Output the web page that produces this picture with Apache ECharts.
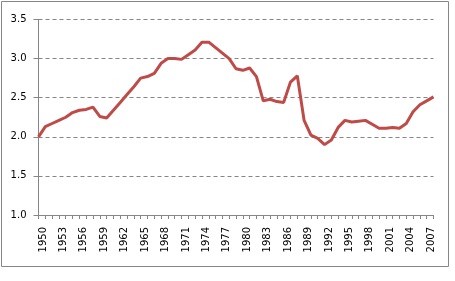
<!DOCTYPE html>
<html>
<head>
<meta charset="utf-8">
<script src="https://cdn.jsdelivr.net/npm/echarts@6/dist/echarts.min.js"></script>
<style>html,body{margin:0;padding:0;background:#fff}#c{width:455px;height:281px}</style>
</head>
<body>
<div id="c"></div>
<script>
const years = [];
for (let y = 1950; y <= 2008; y++) years.push(String(y));
const values = [
  2.00, 2.13, 2.17, 2.21, 2.25, 2.31, 2.34, 2.35, 2.38, 2.26,
  2.24, 2.34, 2.44, 2.54, 2.64, 2.75, 2.77, 2.81, 2.94, 3.00,
  3.00, 2.99, 3.05, 3.11, 3.21, 3.21, 3.14, 3.07, 3.00, 2.87,
  2.85, 2.88, 2.77, 2.46, 2.48, 2.45, 2.44, 2.70, 2.78, 2.21,
  2.02, 1.98, 1.90, 1.96, 2.12, 2.21, 2.19, 2.20, 2.21, 2.16,
  2.11, 2.11, 2.12, 2.11, 2.17, 2.32, 2.41, 2.46, 2.51
];
const yTicks = [1.0, 1.5, 2.0, 2.5, 3.0, 3.5];

const chart = echarts.init(document.getElementById('c'));
chart.setOption({
  animation: false,
  graphic: [{
    type: 'rect',
    shape: {x: 1.5, y: 1.5, width: 447, height: 265},
    style: {fill: 'none', stroke: '#868686', lineWidth: 1},
    silent: true
  }],
  grid: {left: 38.5, top: 19.5, right: 21.5, bottom: 66},
  xAxis: {
    type: 'category',
    data: years,
    boundaryGap: false,
    axisLine: {lineStyle: {color: '#868686', width: 1}},
    axisTick: {show: true, interval: 0, length: 4, lineStyle: {color: '#868686'}},
    axisLabel: {
      interval: 2, rotate: 90, margin: 12,
      verticalAlign: 'top', lineHeight: 9,
      fontFamily: 'DejaVu Sans', fontSize: 10, color: '#000'
    },
    splitLine: {show: false}
  },
  yAxis: {
    type: 'value',
    min: yTicks[0], max: yTicks[yTicks.length - 1], interval: 0.5,
    axisLine: {show: true, lineStyle: {color: '#868686', width: 1}},
    axisTick: {show: true, length: 5, lineStyle: {color: '#868686'}},
    axisLabel: {
      margin: 12, fontFamily: 'DejaVu Sans', fontSize: 10, color: '#000',
      formatter: v => v.toFixed(1)
    },
    splitLine: {show: true, lineStyle: {color: '#868686', type: [4, 3], width: 1}}
  },
  series: [{
    type: 'line',
    data: values,
    symbol: 'none',
    smooth: false,
    lineStyle: {color: '#BE4B48', width: 3},
    itemStyle: {color: '#BE4B48'}
  }]
});
</script>
</body>
</html>
